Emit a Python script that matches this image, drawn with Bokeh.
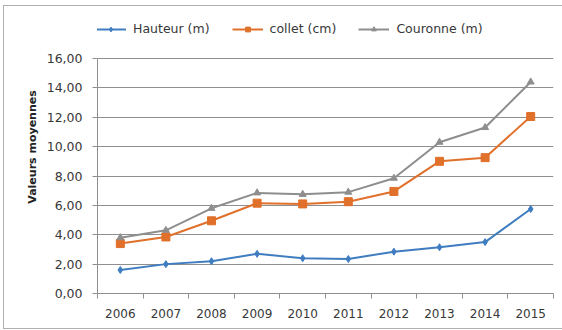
from bokeh.plotting import figure
from bokeh.models import (Range1d, FixedTicker, Legend, LegendItem, ColumnDataSource,
                          InlineStyleSheet)
from bokeh.embed import file_html
from bokeh.resources import INLINE

# Mean values per year
years = ["2006", "2007", "2008", "2009", "2010", "2011", "2012", "2013", "2014", "2015"]
hauteur = [1.60, 2.00, 2.20, 2.70, 2.40, 2.35, 2.85, 3.15, 3.50, 5.75]
collet = [3.40, 3.85, 4.95, 6.15, 6.10, 6.25, 6.95, 9.00, 9.25, 12.05]
couronne = [3.80, 4.30, 5.80, 6.85, 6.75, 6.90, 7.85, 10.30, 11.30, 14.40]
y_ticks = [0, 2, 4, 6, 8, 10, 12, 14, 16]

FONT = "DejaVu Sans"
TXT = "#383838"
GRID = "#8f8f8f"

W, H = 562, 330
BORDER_BOTTOM = 37
# value axis spans 0..16 over the lower 235 px; the space above holds the legend
Y_TOP = 16 * (H - BORDER_BOTTOM) / 235

xs = list(range(len(years)))

# thin frame around the whole chart, drawn above the canvas layers
frame_css = InlineStyleSheet(css="""
:host { position: relative; }
:host::after {
  content: ""; position: absolute; left: 3px; top: 5px; right: -4px; bottom: 1px;
  border: 1px solid #b0b0b0; z-index: 50; pointer-events: none;
}
""")

p = figure(width=W, height=H, output_backend="svg", toolbar_location=None,
           x_range=Range1d(-0.5, len(years) - 0.5), y_range=Range1d(0, Y_TOP),
           min_border_left=97, min_border_right=9, min_border_top=0,
           min_border_bottom=BORDER_BOTTOM, stylesheets=[frame_css])
p.outline_line_color = None
p.background_fill_color = "white"
p.border_fill_color = "white"

# y axis
p.yaxis.ticker = FixedTicker(ticks=y_ticks)
p.yaxis.bounds = (0, 16)
p.yaxis.major_label_overrides = {t: f"{t},00" for t in y_ticks}
p.yaxis.axis_label = "Valeurs moyennes"
p.yaxis.axis_label_text_font = FONT
p.yaxis.axis_label_text_font_size = "11px"
p.yaxis.axis_label_text_font_style = "bold"
p.yaxis.axis_label_text_color = "#222222"
p.yaxis.axis_label_standoff = 5
p.yaxis.major_label_text_font = FONT
p.yaxis.major_label_text_font_size = "12.5px"
p.yaxis.major_label_text_color = TXT
p.yaxis.major_label_standoff = 10
p.yaxis.axis_line_color = GRID
p.yaxis.major_tick_line_color = GRID
p.yaxis.major_tick_out = 5
p.yaxis.major_tick_in = 0
p.yaxis.minor_tick_line_color = None

# x axis: labels at year centres, separator ticks between years
p.xaxis.ticker = FixedTicker(ticks=xs, minor_ticks=[i - 0.5 for i in range(len(years) + 1)])
p.xaxis.major_label_overrides = {i: y for i, y in enumerate(years)}
p.xaxis.major_label_text_font = FONT
p.xaxis.major_label_text_font_size = "12px"
p.xaxis.major_label_text_color = TXT
p.xaxis.major_label_standoff = 9
p.xaxis.axis_line_color = GRID
p.xaxis.major_tick_line_color = None
p.xaxis.minor_tick_line_color = GRID
p.xaxis.minor_tick_out = 5
p.xaxis.minor_tick_in = 0

p.xgrid.grid_line_color = None
p.ygrid.ticker = FixedTicker(ticks=y_ticks[1:])
p.ygrid.grid_line_color = GRID
p.ygrid.grid_line_width = 1

src = ColumnDataSource(dict(x=xs, h=hauteur, c=collet, r=couronne))

BLUE = "#3f7dc0"
ORANGE = "#e0702a"
GRAY = "#8e8e8e"

l1 = p.line("x", "h", source=src, line_color=BLUE, line_width=2)
m1 = p.scatter("x", "h", source=src, marker="diamond", size=7, fill_color=BLUE, line_color=BLUE)
l2 = p.line("x", "c", source=src, line_color=ORANGE, line_width=2)
m2 = p.scatter("x", "c", source=src, marker="square", size=8, fill_color=ORANGE, line_color=ORANGE)
l3 = p.line("x", "r", source=src, line_color=GRAY, line_width=2)
m3 = p.scatter("x", "r", source=src, marker="triangle", size=7, fill_color=GRAY, line_color=GRAY)

legend = Legend(items=[LegendItem(label="Hauteur (m)", renderers=[l1, m1]),
                       LegendItem(label="collet (cm)", renderers=[l2, m2]),
                       LegendItem(label="Couronne (m)", renderers=[l3, m3])],
                orientation="horizontal", location=(-2, 257),
                glyph_width=31, glyph_height=12, label_standoff=7, spacing=22,
                padding=2, margin=0, border_line_color=None, background_fill_alpha=0,
                label_text_font=FONT, label_text_font_size="12.5px", label_text_color=TXT)
p.add_layout(legend, "center")

open("out.html", "w").write(file_html(p, INLINE))
